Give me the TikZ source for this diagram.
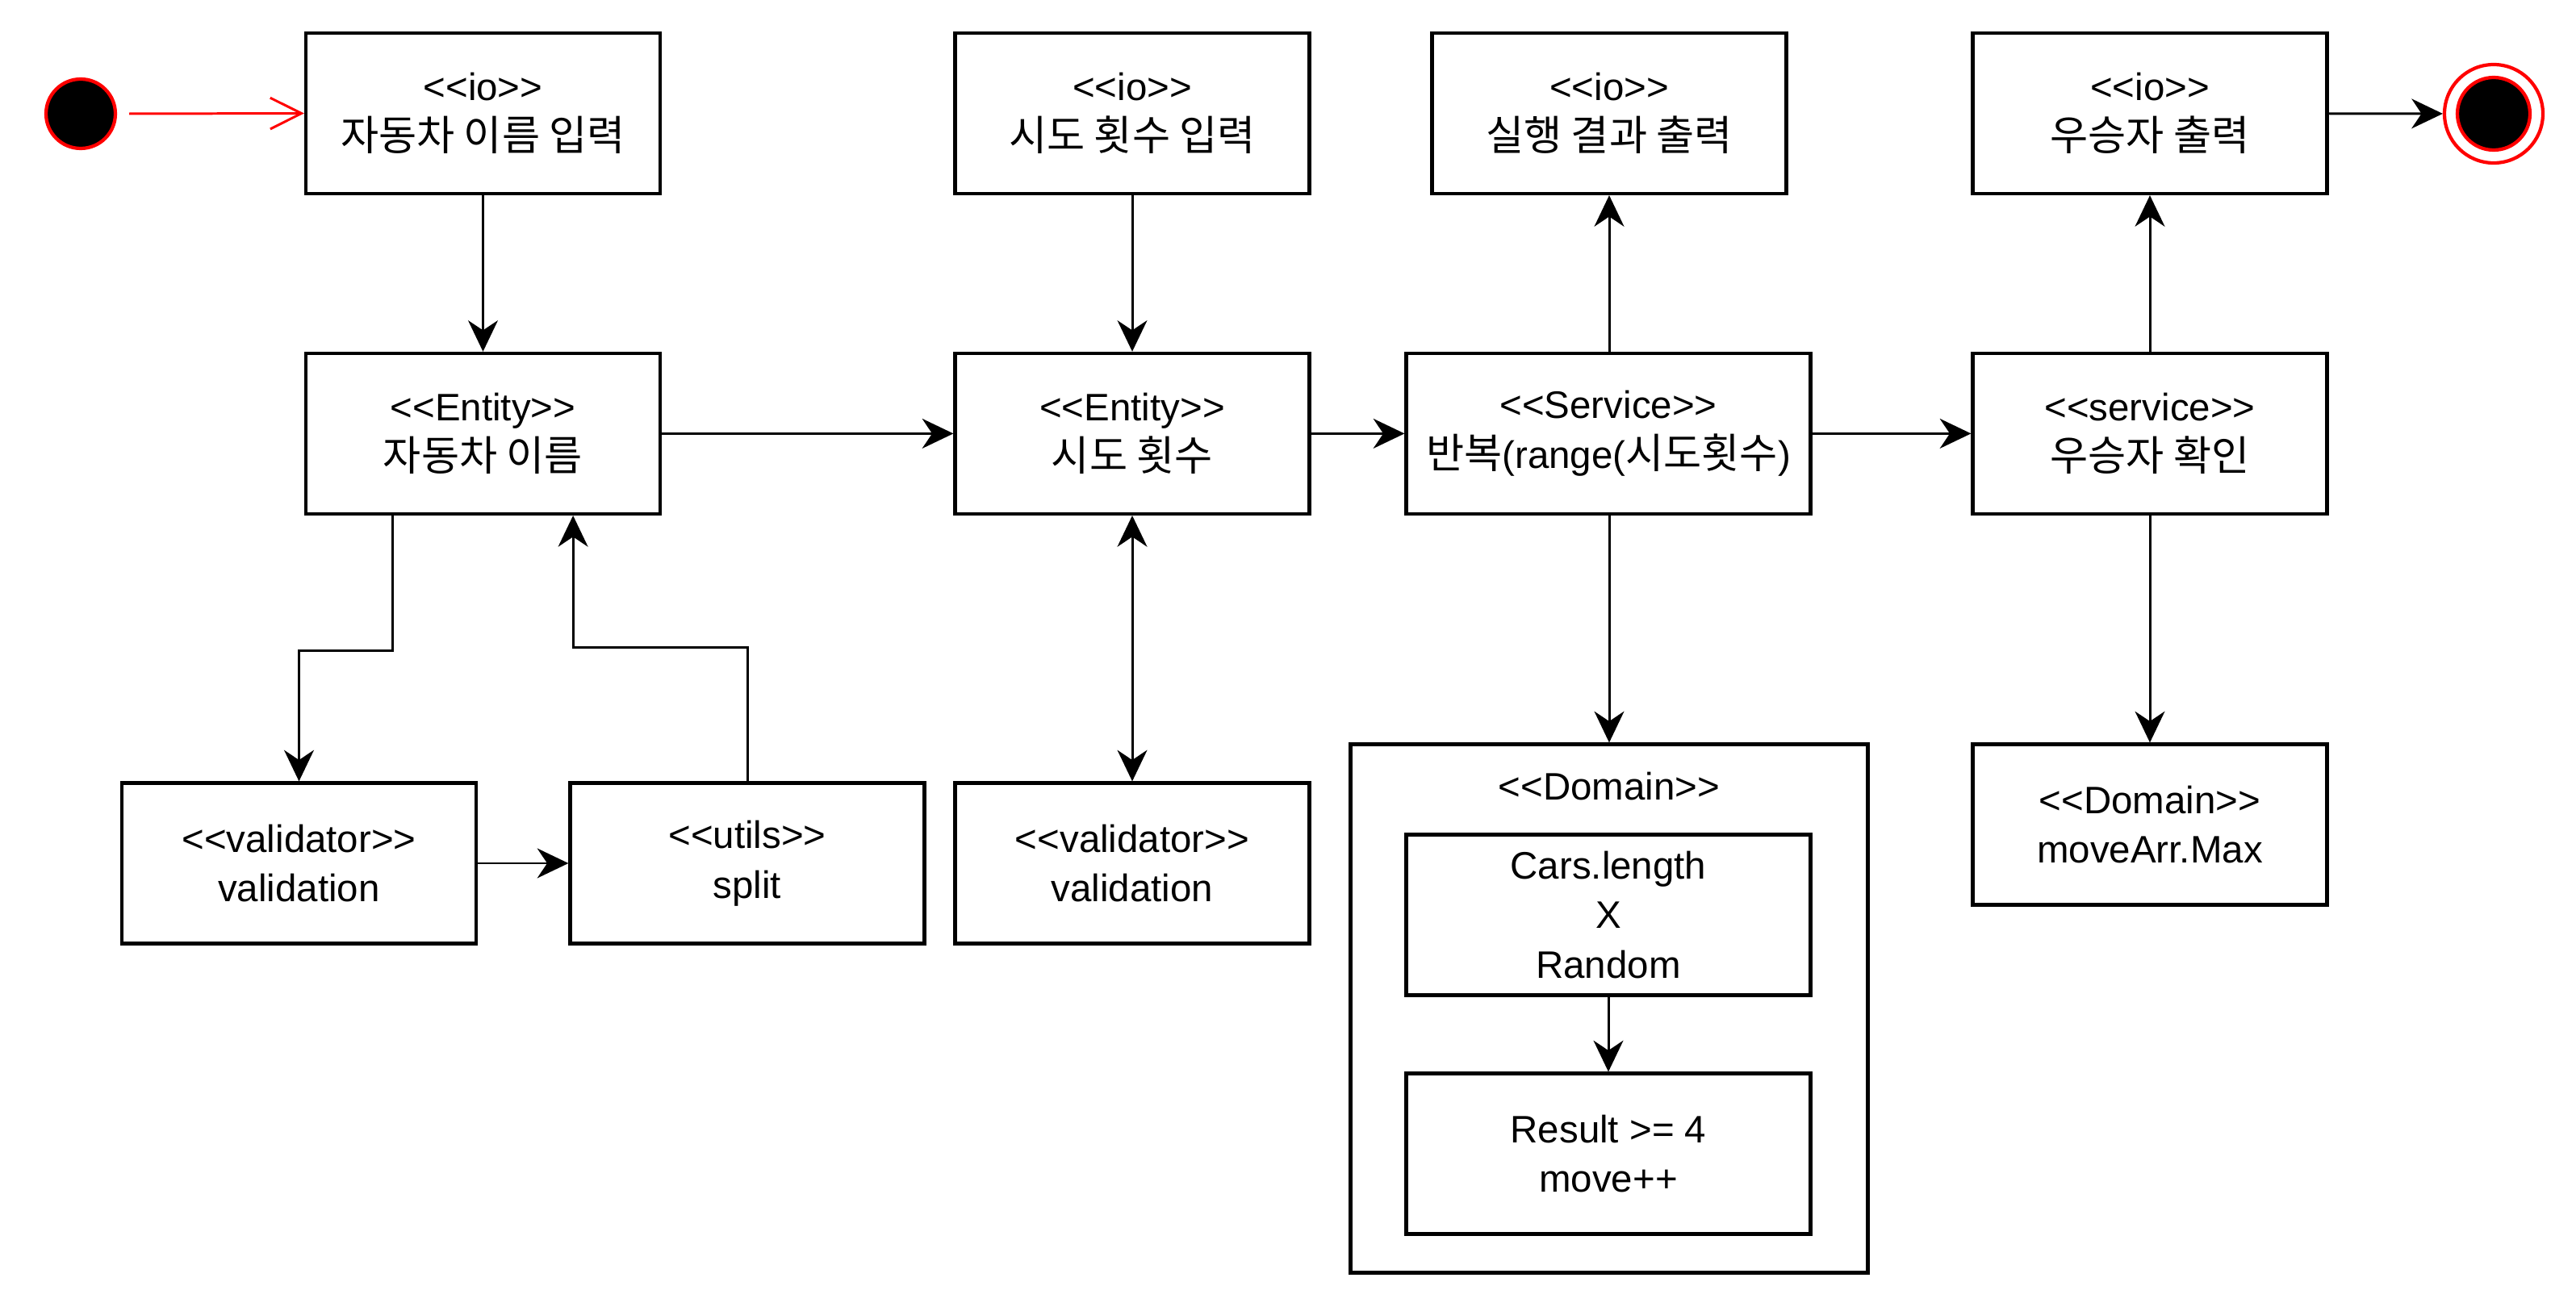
\documentclass[tikz,border=0pt]{standalone}
\usepackage{fontspec}
\setmainfont{Liberation Sans}[Ligatures=TeXOff]
\newfontfamily\kr{Noto Sans CJK KR}[Scale=1.08]
\usetikzlibrary{arrows.meta}

\begin{document}
\begin{tikzpicture}[
        line width=0.85pt,
        >={Stealth[length=11pt, width=10.5pt, inset=3.5pt]},
        main node/.style={rectangle, draw, line width=1.2pt, minimum width=4.39cm, minimum height=1.99cm,
            inner sep=0pt, align=center, font=\fontsize{13.5}{17.5}\selectfont},
        wide node/.style={main node, minimum width=5.01cm},
        state node/.style={circle, draw=red, line width=1.2pt, inner sep=0pt},
    ]
    \useasboundingbox (0,0) rectangle (31.92,-16.20);

    \node[state node, fill=black, minimum size=0.86cm] (start) at (1.00,-1.41) {};
    \node[state node, fill=white, minimum size=1.22cm] (fin) at (30.90,-1.41) {};
    \node[state node, fill=black, minimum size=0.90cm] (finin) at (30.90,-1.41) {};

    \node[main node] (io1) at (5.985,-1.405) {<<io>>\\{\kr 자동차 이름 입력}};
    \node[main node] (io2) at (14.03,-1.405) {<<io>>\\{\kr 시도 횟수 입력}};
    \node[main node] (io3) at (19.94,-1.405) {<<io>>\\{\kr 실행 결과 출력}};
    \node[main node] (io4) at (26.64,-1.405) {<<io>>\\{\kr 우승자 출력}};

    \node[main node] (ent1) at (5.985,-5.374) {<<Entity>>\\{\kr 자동차 이름}};
    \node[main node] (ent2) at (14.03,-5.374) {<<Entity>>\\{\kr 시도 횟수}};
    \node[wide node] (svc) at (19.93,-5.374) {<<Service>>\\{\kr 반복}(range({\kr 시도횟수})};
    \node[main node] (win) at (26.64,-5.374) {<<service>>\\{\kr 우승자 확인}};

    \node[main node] (val1) at (3.705,-10.70) {<<validator>>\\validation};
    \node[main node] (utils) at (9.26,-10.70) {<<utils>>\\split};
    \node[main node] (val2) at (14.03,-10.70) {<<validator>>\\validation};

    \node[main node, minimum width=6.41cm, minimum height=6.55cm] (dom) at (19.94,-12.50) {};
    \node[font=\fontsize{13.5}{17.5}\selectfont] (domlabel) at (19.94,-9.75) {<<Domain>>};
    \node[wide node] (cars) at (19.93,-11.34) {Cars.length\\X\\Random};
    \node[wide node] (res) at (19.93,-14.30) {Result >= 4\\move++};
    \node[main node] (max) at (26.64,-10.22) {<<Domain>>\\moveArr.Max};

    \draw[red, -{Straight Barb[length=11pt, width=11pt]}] (start) ++(0.6,0) -- (io1.west);
    \draw[->] (io1) -- (ent1);
    \draw[->] (ent1) -- (ent2);
    \draw[->] ([xshift=1.1cm]ent1.south west) -- ++(0,-1.67) -| (val1.north);
    \draw[->] (val1) -- (utils);
    \draw[->] (utils.north) -- ++(0,1.66) -| ([xshift=-1.1cm]ent1.south east);
    \draw[->] (io2) -- (ent2);
    \draw[<->] (ent2) -- (val2);
    \draw[->] (ent2) -- (svc);
    \draw[->] (svc.north -| io3) -- (io3);
    \draw[->] (svc.south -| dom) -- (dom);
    \draw[->] (cars) -- (res);
    \draw[->] (svc) -- (win);
    \draw[->] (win) -- (io4);
    \draw[->] (win) -- (max);
    \draw[->] (io4) -- (fin);
\end{tikzpicture}
\end{document}
